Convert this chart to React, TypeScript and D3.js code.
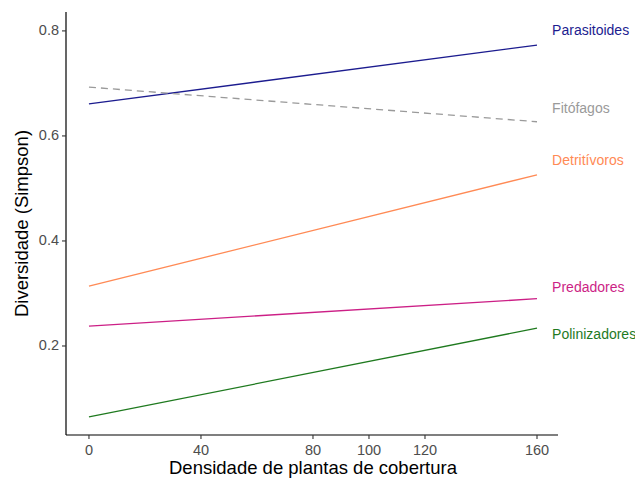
import * as d3 from "d3";

const groups = ["Parasitoides", "Fitófagos", "Detritívoros", "Predadores", "Polinizadores"];
const startValues = [0.661, 0.693, 0.314, 0.238, 0.065];
const endValues = [0.773, 0.627, 0.526, 0.290, 0.234];
const labelValues = [0.800, 0.650, 0.551, 0.310, 0.220];
const colors = ["#1c1c8f", "#9a9a9a", "#ff8a55", "#cc1f86", "#1f7a1f"];
const dashed = [false, true, false, false, false];
const xRange = [0, 160];
const xTicks = [0, 40, 80, 100, 120, 160];
const yTicks = [0.2, 0.4, 0.6, 0.8];

const W = 635, H = 479;
const M = { top: 12, right: 77, bottom: 44, left: 66 };

export default function App() {
  const x = d3.scaleLinear().domain([-8.2, 167.5]).range([M.left, W - M.right]);
  const y = d3.scaleLinear().domain([0.0305, 0.836]).range([H - M.bottom, M.top]);
  const line = d3.line<[number, number]>().x(d => x(d[0])).y(d => y(d[1]));
  const font = "'Liberation Sans', Arial, sans-serif";
  return (
    <svg width={W} height={H} style={{ position: "absolute", left: 0, top: 0 }} fontFamily={font}>
      {groups.map((g, i) => (
        <path key={g} d={line([[xRange[0], startValues[i]], [xRange[1], endValues[i]]]) ?? ""}
          fill="none" stroke={colors[i]} strokeWidth={1.3} strokeDasharray={dashed[i] ? "7,5" : undefined} />
      ))}
      {groups.map((g, i) => (
        <text key={g} x={x(165.4)} y={y(labelValues[i])} dominantBaseline="middle"
          fontSize={14} fill={colors[i]}>{g}</text>
      ))}
      <line x1={M.left} x2={M.left} y1={M.top} y2={H - M.bottom} stroke="#000" strokeWidth={1.2} />
      <line x1={M.left} x2={W - M.right} y1={H - M.bottom} y2={H - M.bottom} stroke="#000" strokeWidth={1.2} />
      {yTicks.map(t => (
        <g key={t} transform={`translate(${M.left},${y(t)})`}>
          <line x1={-4} x2={0} stroke="#333" strokeWidth={1.1} />
          <text x={-7} dominantBaseline="middle" textAnchor="end" fontSize={14.5} fill="#4d4d4d">{t.toFixed(1)}</text>
        </g>
      ))}
      {xTicks.map(t => (
        <g key={t} transform={`translate(${x(t)},${H - M.bottom})`}>
          <line y1={0} y2={4} stroke="#333" strokeWidth={1.1} />
          <text y={20} textAnchor="middle" fontSize={14.5} fill="#4d4d4d">{t}</text>
        </g>
      ))}
      <text x={(M.left + W - M.right) / 2 + 1} y={H - 5} textAnchor="middle" fontSize={18.5} fill="#000">
        Densidade de plantas de cobertura
      </text>
      <text transform={`translate(28,${(M.top + H - M.bottom) / 2}) rotate(-90)`} textAnchor="middle"
        fontSize={18.5} fill="#000">Diversidade (Simpson)</text>
    </svg>
  );
}
